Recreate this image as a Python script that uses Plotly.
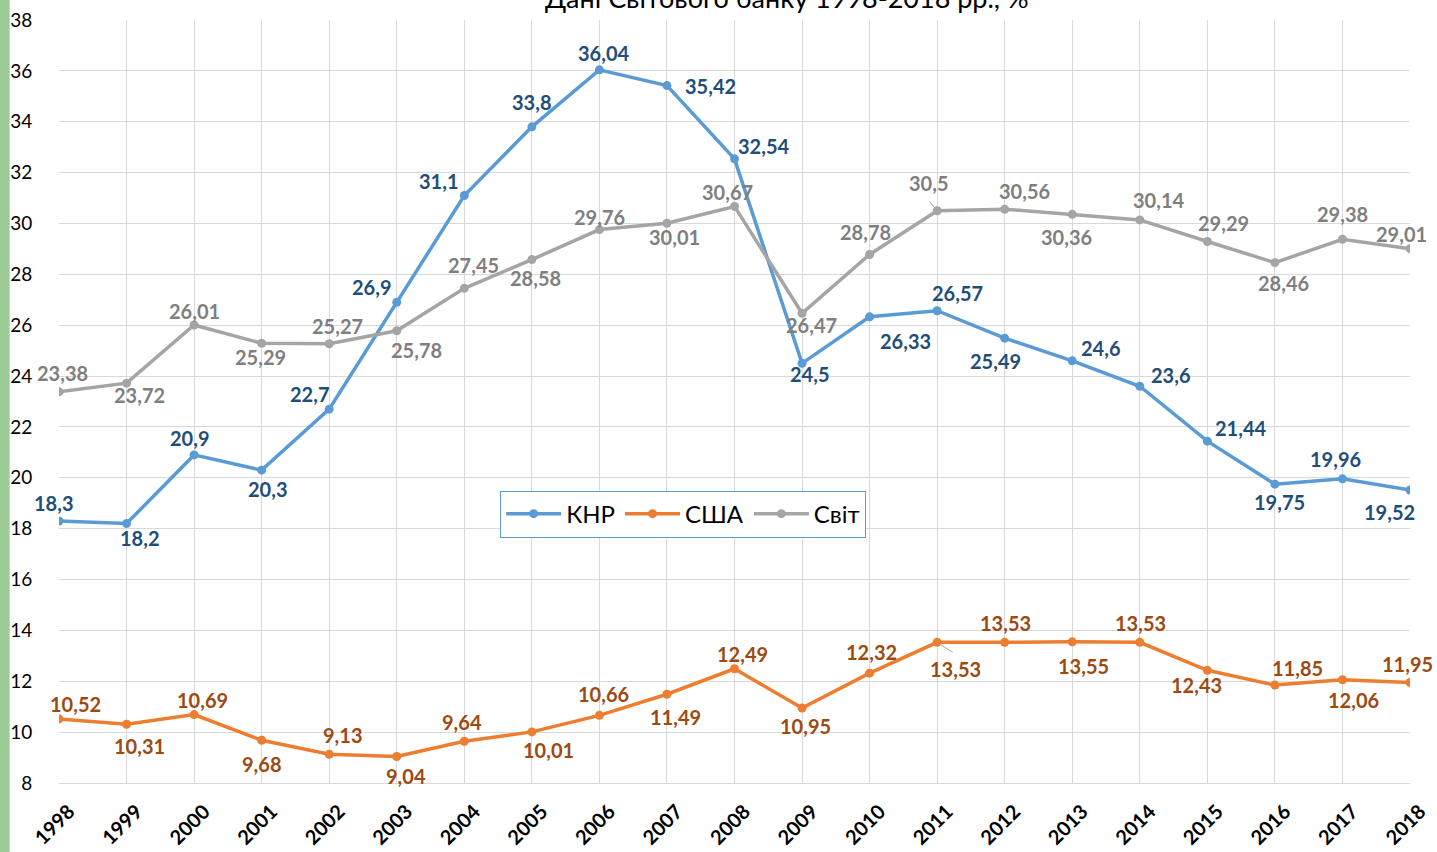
import plotly.graph_objects as go

years = list(range(1998, 2019))
china = [18.3, 18.2, 20.9, 20.3, 22.7, 26.9, 31.1, 33.8, 36.04, 35.42, 32.54,
         24.5, 26.33, 26.57, 25.49, 24.6, 23.6, 21.44, 19.75, 19.96, 19.52]
usa = [10.52, 10.31, 10.69, 9.68, 9.13, 9.04, 9.64, 10.01, 10.66, 11.49, 12.49,
       10.95, 12.32, 13.53, 13.53, 13.55, 13.53, 12.43, 11.85, 12.06, 11.95]
world = [23.38, 23.72, 26.01, 25.29, 25.27, 25.78, 27.45, 28.58, 29.76, 30.01, 30.67,
         26.47, 28.78, 30.5, 30.56, 30.36, 30.14, 29.29, 28.46, 29.38, 29.01]
series_names = ["КНР", "США", "Світ"]
title_text = "Дані Світового банку 1998-2018 рр., %"
y_ticks = list(range(8, 39, 2))

# data-label pixel offsets (style): (dx right, dy up)
off_china = [(-6, 18), (13, -14), (-5, 17), (6, -19), (-20, 15), (-25, 15), (-26, 14),
             (0, 25), (4, 17), (44, 0), (29, 13), (7, -11), (36, -24), (20, 18),
             (-9, -23), (28, 13), (31, 11), (33, 13), (5, -18), (-7, 20), (-21, -22)]
off_usa = [(16, 15), (13, -22), (8, 15), (0, -24), (13, 19), (9, -19), (-2, 19),
           (17, -18), (4, 21), (9, -23), (8, 15), (3, -18), (2, 21), (18, -27),
           (1, 19), (11, -24), (1, 19), (-11, -15), (23, 17), (11, -20), (-3, 19)]
off_world = [(3, 19), (13, -12), (0, 14), (-1, -14), (8, 18), (20, -19), (9, 23),
             (4, -18), (0, 13), (8, -14), (-7, 14), (9, -12), (-4, 23), (-9, 28),
             (20, 18), (-6, -23), (19, 20), (16, 19), (9, -20), (0, 25), (-9, 15)]

line_colors = ["#5B9BD5", "#ED7D31", "#A5A5A5"]
label_colors = ["#1F4E79", "#9C4A12", "#7F7F7F"]
FONT = "Lato, 'Noto Sans', sans-serif"

fig = go.Figure()
annotations = []
for name, vals, lc, tc, offs in zip(series_names, [china, usa, world], line_colors,
                                    label_colors, [off_china, off_usa, off_world]):
    fig.add_trace(go.Scatter(x=years, y=vals, name=name, mode="lines+markers",
                             line=dict(color=lc, width=3.5),
                             marker=dict(color=lc, size=9)))
    for xv, yv, (dx, dy) in zip(years, vals, offs):
        annotations.append(dict(x=xv, y=yv, xref="x", yref="y",
                                text=f"{yv:g}".replace(".", ","), showarrow=False,
                                xshift=dx, yshift=dy,
                                font=dict(family=FONT, size=20, color=tc, weight="bold")))

# leader lines for displaced labels (2011)
i2011 = years.index(2011)
for yv, ax, ay in [(world[i2011], -9, -11), (usa[i2011], 17, 11)]:
    annotations.append(dict(x=2011, y=yv, xref="x", yref="y", text="", showarrow=True,
                            arrowhead=0, arrowwidth=1, arrowcolor="#A6A6A6",
                            ax=ax, ay=ay, standoff=3))

annotations.append(dict(x=(787 - 59) / 1351, y=(783 + 2) / 763, xref="paper", yref="paper",
                        text=title_text, showarrow=False, xanchor="center", yanchor="middle",
                        font=dict(family=FONT, size=27, color="#000000")))

fig.update_layout(
    width=1437, height=852,
    margin=dict(l=59, r=27, t=20, b=69, autoexpand=False),
    paper_bgcolor="white", plot_bgcolor="white",
    font=dict(family=FONT),
    showlegend=True,
    legend=dict(orientation="h", x=0.462, y=0.3525, xanchor="center", yanchor="middle",
                bordercolor="#5B9BD5", borderwidth=1, bgcolor="white",
                font=dict(family=FONT, size=24, color="#000000"),
                itemwidth=55, tracegroupgap=0),
    annotations=annotations,
    shapes=[dict(type="rect", xref="paper", yref="paper",
                 x0=-59 / 1351, x1=-50 / 1351, y0=-69 / 763, y1=(763 + 20) / 763,
                 fillcolor="#9DCB97", line=dict(width=0), layer="above"),
            dict(type="line", xref="paper", yref="paper",
                 x0=-49.5 / 1351, x1=-49.5 / 1351, y0=-69 / 763, y1=(763 + 20) / 763,
                 line=dict(color="#D0D0D0", width=1))],
)
fig.update_xaxes(range=[1998, 2018], tickmode="array", tickvals=years,
                 ticktext=[str(y) for y in years], tickangle=-45, automargin=False,
                 showgrid=True, gridcolor="#D9D9D9", gridwidth=1,
                 showline=True, linecolor="#D9D9D9", zeroline=False,
                 ticks="outside", ticklen=8, tickcolor="rgba(0,0,0,0)",
                 ticklabelshift=10,
                 tickfont=dict(family=FONT, size=20, color="#000000", weight="bold"))
fig.update_yaxes(range=[8, 38], tickmode="array", tickvals=y_ticks, automargin=False,
                 showgrid=True, gridcolor="#D9D9D9", gridwidth=1,
                 zeroline=False, ticks="outside", ticklen=22, tickcolor="rgba(0,0,0,0)",
                 tickfont=dict(family=FONT, size=19, color="#000000"))
fig.write_html("out.html", config={"displayModeBar": False},
               post_script="document.body.style.margin='0';document.body.style.overflow='hidden';")
